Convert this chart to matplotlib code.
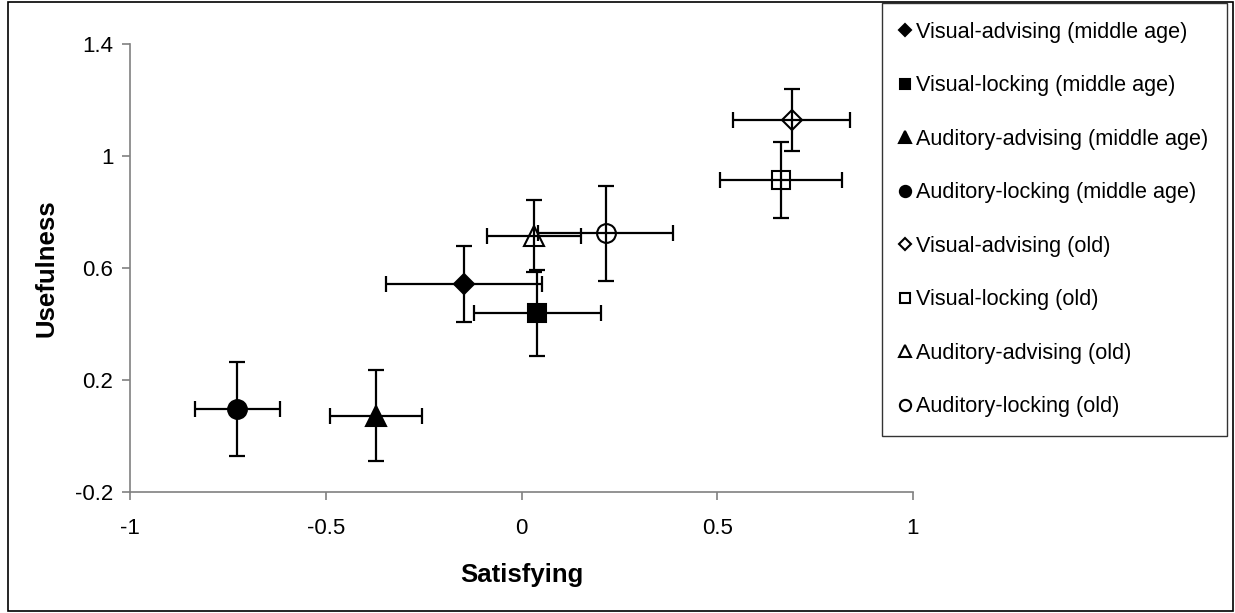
import matplotlib
matplotlib.use("Agg")
import matplotlib.pyplot as plt
from matplotlib.patches import Rectangle

plt.rcParams['font.family'] = ['Liberation Sans', 'DejaVu Sans']

labels = [
    "Visual-advising (middle age)",
    "Visual-locking (middle age)",
    "Auditory-advising (middle age)",
    "Auditory-locking (middle age)",
    "Visual-advising (old)",
    "Visual-locking (old)",
    "Auditory-advising (old)",
    "Auditory-locking (old)",
]
satisfying = [-0.147, 0.040, -0.372, -0.726, 0.690, 0.663, 0.033, 0.215]
usefulness = [0.543, 0.440, 0.073, 0.096, 1.129, 0.914, 0.714, 0.724]
satisfying_err = [0.200, 0.162, 0.118, 0.108, 0.149, 0.155, 0.120, 0.172]
usefulness_err = [0.135, 0.153, 0.161, 0.168, 0.111, 0.135, 0.128, 0.170]

markers = ['D', 's', '^', 'o', 'D', 's', '^', 'o']
sizes = [10, 12.5, 14, 13.5, 10, 12.5, 14, 13.5]
filled = [True, True, True, True, False, False, False, False]

W, H = 1235, 613
fig = plt.figure(figsize=(W / 100, H / 100), dpi=100)
ax = fig.add_axes([130 / W, 1 - 492 / H, (913 - 130) / W, (492 - 44) / H])

for i in range(len(labels)):
    ax.errorbar(satisfying[i], usefulness[i], xerr=satisfying_err[i], yerr=usefulness_err[i],
                fmt='none', ecolor='black', elinewidth=1.6, capsize=5.5, capthick=1.6, zorder=2)
    ax.plot(satisfying[i], usefulness[i], linestyle='none', marker=markers[i], markersize=sizes[i],
            markerfacecolor='black' if filled[i] else 'none', markeredgecolor='black',
            markeredgewidth=1.5, label=labels[i], zorder=3)

ax.set_xlim(-1, 1)
ax.set_ylim(-0.2, 1.4)
ax.set_xticks([-1, -0.5, 0, 0.5, 1])
ax.set_xticklabels(['-1', '-0.5', '0', '0.5', '1'])
ax.set_yticks([-0.2, 0.2, 0.6, 1.0, 1.4])
ax.set_yticklabels(['-0.2', '0.2', '0.6', '1', '1.4'])
for s in ['top', 'right']:
    ax.spines[s].set_visible(False)
for s in ['left', 'bottom']:
    ax.spines[s].set_color('#808080')
    ax.spines[s].set_linewidth(1.2)
ax.tick_params(direction='out', length=6, width=1.2, color='#808080', labelsize=16,
               labelcolor='black')
ax.tick_params(axis='x', pad=13)
ax.tick_params(axis='y', pad=6)
ax.set_xlabel('Satisfying', fontsize=18.5, fontweight='bold', labelpad=17)
ax.set_ylabel('Usefulness', fontsize=18.5, fontweight='bold', labelpad=12)

leg = fig.legend(loc='upper left', bbox_to_anchor=(882 / W, 1 - 3 / H), ncol=1,
                 fontsize=15.6, frameon=True, fancybox=False, markerscale=0.6,
                 handlelength=0.4, handletextpad=0.3, borderpad=0.87, labelspacing=1.5,
                 borderaxespad=0)
leg.get_frame().set_edgecolor('black')
leg.get_frame().set_linewidth(1.0)

fig.patches.append(Rectangle((8 / W, 2 / H), (1233 - 8) / W, (611 - 2) / H,
                             transform=fig.transFigure, fill=False, edgecolor='black',
                             linewidth=1.2))

fig.savefig('out.png', dpi=100)
